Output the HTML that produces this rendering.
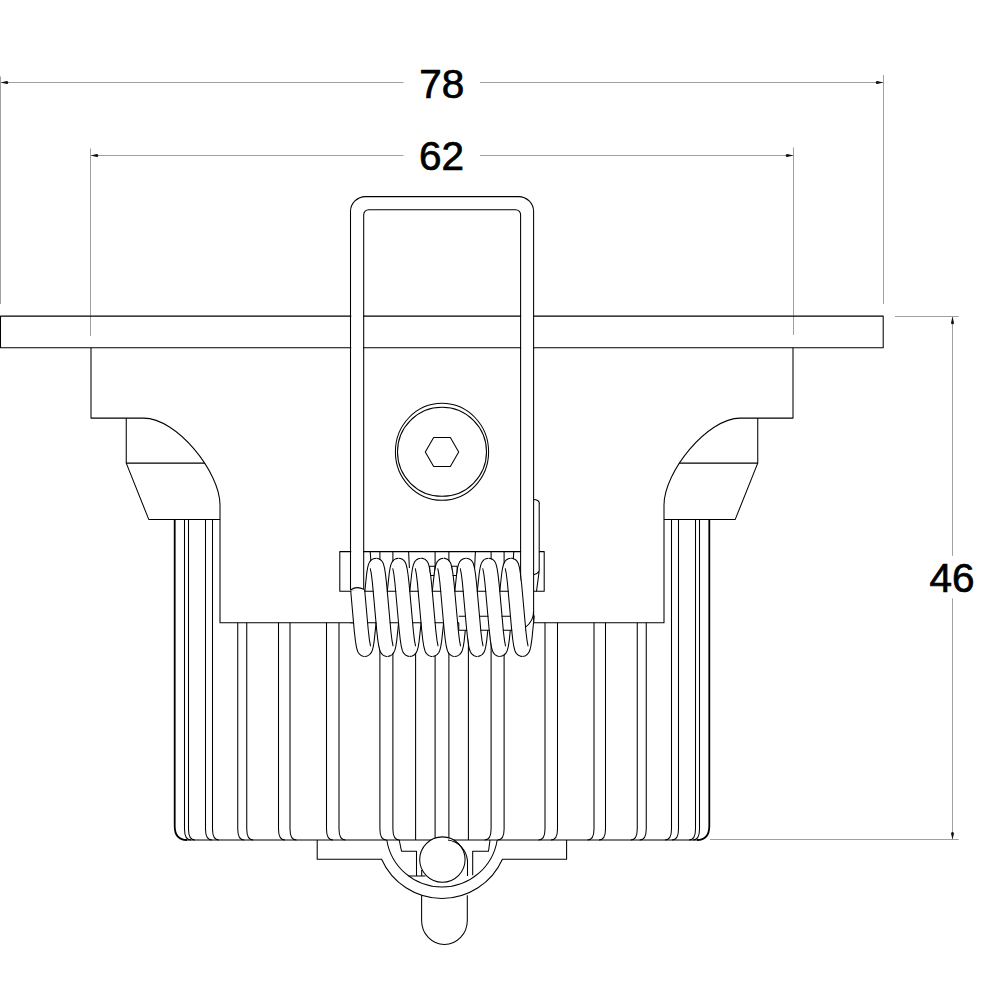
<!DOCTYPE html>
<html><head><meta charset="utf-8"><style>
html,body{margin:0;padding:0;background:#fff;}
svg{display:block;}
</style></head><body>
<svg width="1000" height="1000" viewBox="0 0 1000 1000">
<rect width="1000" height="1000" fill="#fff"/>
<g stroke="#a0a0a0" stroke-width="1" fill="none">
<path d="M0.5,76.5 V304 M883.5,75 V304 M0.5,82.5 H403.5 M480,82.5 H883.5"/>
<path d="M90.5,148.5 V336 M793.5,147.5 V335 M90.5,155.5 H403.5 M480,155.5 H793.5"/>
<path d="M895,316.5 H958.7 M710,839.5 H958.7 M952.5,316.5 V555.8 M952.5,598.4 V839.5"/>
</g>
<path d="M0.6,82.5 L6.8,81.0 A1.5,1.5 0 0 1 6.8,84.0 Z" fill="#111" stroke="none"/>
<path d="M883.4,82.5 L877.1999999999999,84.0 A1.5,1.5 0 0 1 877.1999999999999,81.0 Z" fill="#111" stroke="none"/>
<path d="M90.6,155.5 L96.8,154.0 A1.5,1.5 0 0 1 96.8,157.0 Z" fill="#111" stroke="none"/>
<path d="M793.4,155.5 L787.1999999999999,157.0 A1.5,1.5 0 0 1 787.1999999999999,154.0 Z" fill="#111" stroke="none"/>
<path d="M952.5,316.5 L954.0,322.7 A1.5,1.5 0 0 1 951.0,322.7 Z" fill="#111" stroke="none"/>
<path d="M952.5,839.6 L951.0,833.4 A1.5,1.5 0 0 1 954.0,833.4 Z" fill="#111" stroke="none"/>
<g font-family="'Liberation Sans', sans-serif" font-size="40.5" fill="#000" stroke="#000" stroke-width="0.7" text-anchor="middle">
<text x="441.8" y="97.6">78</text>
<text x="441.5" y="170.3">62</text>
<text x="952" y="592.3">46</text>
</g>
<g stroke="#000" stroke-width="1.05" fill="none" stroke-linejoin="round">
<rect x="0.5" y="316.1" width="882.7" height="31.7"/>
<path d="M91,347.8 V418.1 H143.75 C176.6,418.1 220,472 220,505 V622.7 H442"/><path d="M126.25,418.1 V463.1 H205"/><path d="M126.25,463.1 L148.75,519.4 H220"/><path d="M174.7,519.5 V826 Q174.7,840 187,840" stroke-width="1.8"/><path d="M184.5,519.5 V829 Q184.5,840 191.0,840" stroke-width="1.05"/><path d="M188.5,519.5 V829 Q188.5,840 195.0,840" stroke-width="1.05"/><path d="M205.5,519.5 V829 Q205.5,840 212.0,840" stroke-width="1.05"/><path d="M212.5,519.5 V829 Q212.5,840 219.0,840" stroke-width="1.05"/><path d="M237.75,622.7 V829 Q237.75,840 244.25,840"/><path d="M246.75,622.7 V829 Q246.75,840 253.25,840"/><path d="M278.5,622.7 V829 Q278.5,840 285.0,840"/><path d="M290,622.7 V829 Q290,840 296.5,840"/><path d="M326.5,622.7 V829 Q326.5,840 333.0,840"/><path d="M339,622.7 V829 Q339,840 345.5,840"/><path d="M379.9,551.6 V829 Q379.9,840 386.4,840"/><path d="M392.9,551.6 V829 Q392.9,840 399.4,840"/><path d="M435.1,551.6 V840 M415.6,622.7 V840 M370.2,551.6 L371.2,566 M408.6,551.6 L409.4,568"/><path d="M187,840 H442"/>
<g transform="translate(884,0) scale(-1,1)"><path d="M91,347.8 V418.1 H143.75 C176.6,418.1 220,472 220,505 V622.7 H442"/><path d="M126.25,418.1 V463.1 H205"/><path d="M126.25,463.1 L148.75,519.4 H220"/><path d="M174.7,519.5 V826 Q174.7,840 187,840" stroke-width="1.8"/><path d="M184.5,519.5 V829 Q184.5,840 191.0,840" stroke-width="1.05"/><path d="M188.5,519.5 V829 Q188.5,840 195.0,840" stroke-width="1.05"/><path d="M205.5,519.5 V829 Q205.5,840 212.0,840" stroke-width="1.05"/><path d="M212.5,519.5 V829 Q212.5,840 219.0,840" stroke-width="1.05"/><path d="M237.75,622.7 V829 Q237.75,840 244.25,840"/><path d="M246.75,622.7 V829 Q246.75,840 253.25,840"/><path d="M278.5,622.7 V829 Q278.5,840 285.0,840"/><path d="M290,622.7 V829 Q290,840 296.5,840"/><path d="M326.5,622.7 V829 Q326.5,840 333.0,840"/><path d="M339,622.7 V829 Q339,840 345.5,840"/><path d="M379.9,551.6 V829 Q379.9,840 386.4,840"/><path d="M392.9,551.6 V829 Q392.9,840 399.4,840"/><path d="M435.1,551.6 V840 M415.6,622.7 V840 M370.2,551.6 L371.2,566 M408.6,551.6 L409.4,568"/><path d="M187,840 H442"/></g>
<path d="M317.2,840 V859.2 H381.6 A66.1,66.1 0 0 0 502.4,859.2 H566.6 V840"/>
<path d="M386.8,840 A55.9,55.9 0 0 0 497.2,840"/>
<path d="M399.2,840 L401.5,851.2 H416.5 V876"/>
<path d="M408.4,876 H425.5 M421.7,870 V876"/>
<path d="M490,840 L488.5,851.2 H472.7 V875.2"/>
<path d="M421.6,895.3 V920.5 A22.85,24 0 0 0 467.3,920.5 V895.3"/>
<circle cx="442.4" cy="859.6" r="22.7" fill="#fff"/>
<path d="M448,840 A22.7,22.7 0 0 1 467.5,861 V876"/>
<ellipse cx="442" cy="451.8" rx="46.6" ry="48.5"/>
<circle cx="442" cy="451.8" r="44.5"/>
<polygon points="458.70,452.00 450.35,466.46 433.65,466.46 425.30,452.00 433.65,437.54 450.35,437.54"/>
<path d="M350.3,591.2 H339.8 V551.6 H544.2 V591.2 H533.6"/>
<path d="M533.6,499.4 A5.7,3.55 0 0 1 533.6,506.5" fill="#fff"/>
<path d="M533.6,503 H539.2 V570.9 Q537.5,574 533.6,574.7 Z" fill="#fff" stroke="none"/>
<path d="M539.2,503 V570.9 M533.6,574.7 Q537.5,574 539.2,570.9 L536.5,591.2"/>
<path d="M429.6,566.2 H435.2 V575.4 H429.6 Z M451.6,566.2 H457.2 V575.4 H451.6 Z"/>
<path d="M364.79,649.40 L365.14,649.21 L365.50,648.60 L366.20,646.22 L366.92,642.24 L367.69,636.46 L369.04,623.13 L372.12,588.07 L373.58,574.85 L374.22,570.59 L374.84,567.57 L375.45,565.79 L375.76,565.33 L376.06,565.20 M387.30,649.40 L387.64,649.21 L388.00,648.60 L388.70,646.21 L389.42,642.22 L390.19,636.43 L391.55,623.09 L394.63,588.04 L396.08,574.82 L396.72,570.57 L397.35,567.56 L397.96,565.78 L398.27,565.33 L398.56,565.20 M409.79,649.40 L410.08,649.27 L410.39,648.82 L411.00,647.04 L411.63,644.02 L412.27,639.78 L413.72,626.56 L416.80,591.51 L418.16,578.17 L418.93,572.38 L419.65,568.39 L420.35,566.00 L420.71,565.39 L421.05,565.20 M432.29,649.40 L432.59,649.27 L432.90,648.81 L433.51,647.03 L434.13,644.01 L434.77,639.75 L436.23,626.52 L439.31,591.47 L440.67,578.14 L441.43,572.36 L442.15,568.38 L442.85,566.00 L443.21,565.39 L443.56,565.20 M454.79,649.40 L455.14,649.21 L455.50,648.61 L456.20,646.23 L456.92,642.25 L457.68,636.48 L459.04,623.15 L462.14,587.93 L463.59,574.75 L464.23,570.52 L464.86,567.52 L465.47,565.76 L465.76,565.34 L466.06,565.20 M477.30,649.40 L477.64,649.21 L478.00,648.60 L478.70,646.21 L479.42,642.23 L480.19,636.45 L481.55,623.11 L484.62,588.06 L486.08,574.84 L486.72,570.59 L487.34,567.57 L487.95,565.78 L488.27,565.33 L488.56,565.20 M499.80,649.40 L500.10,649.26 L500.39,648.82 L501.00,647.05 L501.63,644.04 L502.27,639.79 L503.72,626.58 L506.80,591.53 L508.16,578.19 L508.93,572.40 L509.64,568.40 L510.35,566.01 L510.71,565.39 L511.05,565.20 M522.29,649.40 L522.55,649.30 L522.83,648.93 L523.40,647.44 L523.96,644.96 L524.55,641.34 L525.79,630.97 L527.27,614.94" stroke="#fff" stroke-width="13.0" stroke-linecap="round"/>
<path d="M364.76,591.63 L366.70,573.44 L367.58,567.97 L368.48,564.39 L369.63,561.88 L371.31,559.93 L373.49,558.66 L375.95,558.20 M387.25,591.77 L389.21,573.41 L390.09,567.95 L390.99,564.37 L392.14,561.86 L393.85,559.90 L396.06,558.64 L398.53,558.20 M409.75,591.73 L411.69,573.51 L412.57,568.02 L413.47,564.44 L414.59,561.94 L416.22,560.01 L418.32,558.73 L420.74,558.21 M432.26,591.69 L434.20,573.48 L435.08,568.00 L435.97,564.42 L437.10,561.92 L438.75,559.98 L440.89,558.70 L443.32,558.20 M454.76,591.65 L456.70,573.45 L457.58,567.98 L458.48,564.40 L459.62,561.89 L461.29,559.95 L463.45,558.68 L465.90,558.20 M477.25,591.79 L479.20,573.43 L480.09,567.96 L480.98,564.38 L482.13,561.87 L483.83,559.92 L486.02,558.65 L488.48,558.20 M499.75,591.75 L501.69,573.52 L502.57,568.03 L503.46,564.45 L504.58,561.96 L506.19,560.03 L508.28,558.74 L510.69,558.21 M365.04,656.40 L367.47,655.90 L369.60,654.62 L371.25,652.68 L372.38,650.18 L373.27,646.60 L374.15,641.12 L376.09,622.91 M387.62,656.39 L390.04,655.87 L392.14,654.58 L393.76,652.66 L394.88,650.16 L395.78,646.58 L396.66,641.09 L398.60,622.87 M409.82,656.40 L412.30,655.96 L414.50,654.70 L416.21,652.74 L417.36,650.22 L418.26,646.65 L419.14,641.18 L421.10,622.83 M432.41,656.40 L434.86,655.94 L437.04,654.67 L438.72,652.72 L439.87,650.21 L440.77,646.63 L441.65,641.16 L443.59,622.97 M454.99,656.40 L457.43,655.91 L459.58,654.64 L461.24,652.69 L462.37,650.19 L463.27,646.61 L464.15,641.13 L466.09,622.93 M477.57,656.40 L480.00,655.88 L482.12,654.60 L483.75,652.67 L484.88,650.17 L485.77,646.59 L486.65,641.11 L488.60,622.89 M500.15,656.39 L502.56,655.86 L504.65,654.57 L506.27,652.65 L507.39,650.16 L508.28,646.57 L509.16,641.08 L511.10,622.85 M522.36,656.40 L524.82,655.95 L525.95,655.43 L527.19,654.54 L528.91,652.41 L530.09,649.50 L531.04,645.12 L532.00,638.41 L534.25,615.54"/>
<rect x="350" y="591.2" width="184" height="31.5" fill="#fff" stroke="none"/>
<rect x="458.75" y="616.2" width="67" height="14" fill="#fff" stroke="none"/>
<path d="M350,591.2 H533.6 M350,622.7 H458.75 V630.2 H525.75 M458.75,616.2 H525.75"/>
<path d="M357.25,590 V203.3 H527.1 V612" stroke="#fff" stroke-width="12" stroke-linejoin="round"/>
<path d="M520.6,575 H533.6 V611 Q533.6,621 525.6,627.2 L519,627.2 Z" fill="#fff" stroke="none"/>
<path d="M350.5,590 V211.6 A15,15 0 0 1 365.5,196.6 H518.6 A15,15 0 0 1 533.6,211.6 V623"/>
<path d="M363.7,590 V214.7 A5,5 0 0 1 368.7,209.7 H515.6 A5,5 0 0 1 520.6,214.7 V581"/>
<path d="M533.6,611 Q533.6,621 525.6,627.2"/>
<path d="M357.67,590.10 L360.53,622.83 L361.90,636.36 L362.62,641.85 L363.31,645.81 L363.98,648.31 L364.31,649.01 L364.64,649.36 M376.22,565.25 L376.55,565.60 L376.89,566.35 L377.58,568.97 L378.28,573.11 L379.02,578.83 L380.34,592.00 L383.33,626.05 L384.75,639.17 L385.38,643.46 L385.97,646.53 L386.56,648.51 L387.14,649.36 M398.71,565.24 L399.03,565.58 L399.38,566.32 L400.07,568.91 L400.77,573.02 L401.52,578.86 L402.85,592.04 L405.83,626.09 L407.25,639.20 L407.88,643.49 L408.47,646.54 L409.07,648.52 L409.64,649.36 M421.21,565.24 L421.79,566.09 L422.38,568.07 L422.97,571.14 L423.60,575.43 L425.02,588.55 L428.01,622.60 L429.34,635.78 L430.07,641.50 L430.77,645.63 L431.46,648.25 L431.80,649.00 L432.13,649.35 M443.71,565.24 L444.29,566.10 L444.88,568.09 L445.48,571.16 L446.10,575.46 L447.53,588.59 L450.51,622.64 L451.84,635.81 L452.57,641.52 L453.28,645.65 L453.96,648.26 L454.31,649.00 L454.64,649.36 M466.22,565.25 L466.54,565.60 L466.89,566.35 L467.58,568.96 L468.28,573.09 L469.01,578.81 L470.34,591.98 L473.33,626.03 L474.75,639.16 L475.37,643.45 L475.97,646.52 L476.56,648.51 L477.14,649.36 M488.72,565.25 L489.05,565.61 L489.39,566.36 L490.08,568.98 L490.78,573.12 L491.52,578.84 L492.84,592.02 L495.83,626.07 L497.24,639.06 L497.86,643.38 L498.47,646.53 L499.06,648.52 L499.64,649.36 M511.21,565.24 L511.79,566.08 L512.38,568.07 L512.99,571.22 L513.61,575.53 L515.02,588.53 L518.00,622.58 L519.33,635.76 L520.07,641.48 L520.77,645.62 L521.46,648.24 L521.80,648.99 L522.13,649.35" stroke="#fff" stroke-width="13.0" stroke-linecap="butt"/>
<path d="M364.64,589.45 L368.18,629.31 L369.44,640.11 L370.53,645.85 L370.29,645.36 M376.33,558.21 L377.78,558.41 L379.33,558.98 L380.69,559.85 L381.83,560.98 L382.69,562.25 L383.43,563.86 L384.60,568.38 L385.58,574.85 L386.65,584.41 L390.96,632.01 L392.06,640.94 L393.04,645.85 L392.81,645.40 M398.91,558.21 L400.35,558.43 L401.89,559.01 L403.23,559.88 L404.45,561.14 L405.31,562.47 L405.97,563.96 L407.12,568.50 L408.10,575.00 L409.17,584.61 L413.45,631.90 L414.55,640.86 L415.54,645.85 L415.30,645.39 M421.11,558.20 L422.58,558.36 L424.17,558.90 L425.59,559.77 L426.77,560.90 L427.66,562.19 L428.38,563.74 L429.57,568.24 L430.57,574.78 L431.64,584.32 L435.95,631.93 L437.06,640.88 L438.04,645.85 L437.80,645.38 M443.70,558.20 L445.16,558.38 L446.73,558.93 L448.13,559.80 L449.29,560.93 L450.17,562.21 L450.92,563.84 L452.09,568.35 L453.08,574.80 L454.15,584.36 L458.44,631.82 L459.56,640.91 L460.54,645.85 L460.29,645.37 M466.28,558.20 L467.73,558.40 L469.29,558.96 L470.67,559.83 L471.81,560.96 L472.68,562.23 L473.43,563.85 L474.59,568.37 L475.58,574.83 L476.65,584.39 L480.94,631.85 L482.06,640.93 L483.03,645.85 L482.78,645.36 M488.86,558.21 L490.31,558.41 L491.85,558.99 L493.21,559.86 L494.34,560.99 L495.20,562.26 L495.94,563.87 L497.10,568.39 L498.08,574.86 L499.15,584.43 L503.45,631.88 L504.55,640.85 L505.54,645.85 L505.31,645.40 M511.07,558.20 L512.53,558.35 L514.14,558.88 L515.56,559.75 L516.75,560.89 L517.65,562.18 L518.38,563.72 L519.57,568.23 L520.57,574.76 L521.64,584.30 L525.97,632.06 L527.07,640.97 L528.04,645.85 L527.80,645.39 M350.70,590.75 L354.31,631.34 L355.44,641.03 L356.48,647.33 L357.63,651.27 L358.37,652.71 L359.30,653.94 L360.42,654.95 L361.62,655.67 L363.20,656.22 L364.66,656.40 M370.55,569.22 L370.31,568.75 L371.30,573.72 L372.40,582.67 L376.71,630.28 L377.78,639.83 L378.78,646.36 L379.97,650.87 L380.69,652.41 L381.59,653.70 L382.77,654.84 L384.18,655.70 L385.78,656.24 L387.24,656.40 M393.05,569.21 L392.81,568.75 L393.80,573.74 L394.90,582.70 L399.18,630.00 L400.25,639.60 L401.23,646.10 L402.38,650.64 L403.04,652.13 L403.90,653.47 L405.12,654.72 L406.47,655.60 L408.00,656.18 L409.45,656.39 M415.54,569.20 L415.31,568.75 L416.29,573.66 L417.39,582.59 L421.70,630.19 L422.77,639.75 L423.75,646.22 L424.92,650.74 L425.66,652.35 L426.53,653.62 L427.66,654.75 L429.03,655.63 L430.58,656.19 L432.03,656.40 M438.06,569.24 L437.81,568.75 L438.79,573.68 L439.91,582.77 L444.20,630.22 L445.27,639.78 L446.26,646.24 L447.42,650.75 L448.17,652.38 L449.05,653.65 L450.20,654.78 L451.59,655.66 L453.15,656.21 L454.61,656.40 M460.56,569.23 L460.31,568.75 L461.29,573.71 L462.40,582.65 L466.70,630.26 L467.77,639.81 L468.76,646.26 L469.93,650.77 L470.68,652.40 L471.57,653.68 L472.74,654.82 L474.15,655.69 L475.73,656.23 L477.19,656.40 M483.05,569.21 L482.81,568.75 L483.80,573.73 L484.90,582.68 L489.21,630.29 L490.28,639.84 L491.28,646.37 L492.47,650.87 L493.20,652.42 L494.10,653.71 L495.29,654.85 L496.71,655.71 L498.31,656.25 L499.78,656.40 M505.54,569.20 L505.31,568.75 L506.30,573.75 L507.40,582.72 L511.70,630.17 L512.77,639.74 L513.75,646.21 L514.91,650.73 L515.65,652.34 L516.51,653.61 L517.64,654.73 L518.99,655.61 L520.53,656.18 L521.98,656.39"/>
<path d="M350.5,590 Q357,585.6 363.8,589.4"/>
</g>
</svg></body></html>
